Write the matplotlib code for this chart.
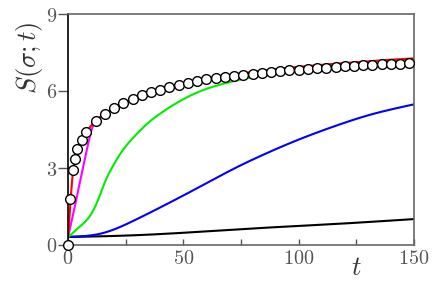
import numpy as np
import matplotlib
matplotlib.use("Agg")
import matplotlib.pyplot as plt
from matplotlib.ticker import FixedLocator, FuncFormatter

plt.rcParams['mathtext.fontset'] = 'cm'

# circles (data points)
t_circ = [0, 1, 2, 3, 4, 6, 8, 12, 16, 20, 24, 28, 32, 36, 40, 44, 48, 52, 56, 60,
          64, 68, 72, 76, 80, 84, 88, 92, 96, 100, 104, 108, 112, 116, 120, 124,
          128, 132, 136, 140, 144, 148]
S_circ = [0, 1.78, 2.91, 3.35, 3.74, 4.10, 4.40, 4.84, 5.09, 5.35, 5.52, 5.68, 5.83,
          5.95, 6.05, 6.14, 6.22, 6.30, 6.38, 6.45, 6.50, 6.55, 6.60, 6.64, 6.67,
          6.70, 6.73, 6.76, 6.80, 6.83, 6.86, 6.89, 6.91, 6.94, 6.96, 6.98, 7.00,
          7.02, 7.04, 7.06, 7.07, 7.09]

# red curve
t_red = [0, 0.5, 1, 2, 3, 4, 6, 8, 12, 16, 20, 24, 28, 32, 36, 40, 50, 60, 70, 80,
         90, 100, 110, 120, 130, 140, 150]
S_red = [0.3, 0.9, 1.6, 2.7, 3.3, 3.7, 4.1, 4.4, 4.85, 5.1, 5.35, 5.53, 5.69, 5.84,
         5.96, 6.07, 6.3, 6.48, 6.62, 6.74, 6.85, 6.94, 7.02, 7.09, 7.16, 7.22, 7.27]

# magenta curve
t_mag = [0, 1, 3, 5, 7, 9, 10, 11, 12, 13, 16, 20, 24]
S_mag = [0.3, 0.7, 1.52, 2.38, 3.22, 4.05, 4.42, 4.68, 4.83, 4.93, 5.1, 5.35, 5.53]

# green curve
t_grn = [0, 5, 10, 13, 16, 19, 23, 29, 35, 40, 45, 50, 57, 69, 77, 85, 100, 125, 150]
S_grn = [0.3, 0.7, 1.2, 1.75, 2.45, 3.0, 3.6, 4.25, 4.78, 5.12, 5.42, 5.68, 5.98,
         6.32, 6.49, 6.62, 6.82, 7.07, 7.23]

# blue curve
t_blu = [0, 14.5, 29, 43.4, 57.8, 72.3, 86.7, 101.2, 115.6, 130, 150]
S_blu = [0.32, 0.45, 0.97, 1.62, 2.30, 2.99, 3.60, 4.15, 4.63, 5.05, 5.48]

# black curve
t_blk = [0, 29, 58, 87, 116, 150]
S_blk = [0.31, 0.38, 0.52, 0.68, 0.82, 1.01]


def pchip(x, y, n=500):
    x = np.asarray(x, float); y = np.asarray(y, float)
    xs = np.linspace(x[0], x[-1], n)
    h = np.diff(x); d = np.diff(y) / h
    m = np.zeros_like(y)
    m[0] = d[0]; m[-1] = d[-1]
    for i in range(1, len(x) - 1):
        if d[i-1] * d[i] <= 0:
            m[i] = 0
        else:
            w1 = 2*h[i] + h[i-1]; w2 = h[i] + 2*h[i-1]
            m[i] = (w1 + w2) / (w1/d[i-1] + w2/d[i])
    idx = np.clip(np.searchsorted(x, xs) - 1, 0, len(x) - 2)
    hh = h[idx]; s = (xs - x[idx]) / hh
    h00 = 2*s**3 - 3*s**2 + 1; h10 = s**3 - 2*s**2 + s
    h01 = -2*s**3 + 3*s**2; h11 = s**3 - s**2
    ys = h00*y[idx] + h10*hh*m[idx] + h01*y[idx+1] + h11*hh*m[idx+1]
    return xs, ys


def natural(x, y, n=500):
    x = np.asarray(x, float); y = np.asarray(y, float)
    N = len(x); h = np.diff(x)
    A = np.zeros((N, N)); b = np.zeros(N)
    A[0, 0] = 1; A[-1, -1] = 1
    for i in range(1, N - 1):
        A[i, i-1] = h[i-1]; A[i, i] = 2*(h[i-1] + h[i]); A[i, i+1] = h[i]
        b[i] = 6*((y[i+1] - y[i])/h[i] - (y[i] - y[i-1])/h[i-1])
    M = np.linalg.solve(A, b)
    xs = np.linspace(x[0], x[-1], n)
    idx = np.clip(np.searchsorted(x, xs) - 1, 0, N - 2)
    x0 = x[idx]; x1 = x[idx+1]; hh = h[idx]
    ys = (M[idx]*(x1 - xs)**3/(6*hh) + M[idx+1]*(xs - x0)**3/(6*hh)
          + (y[idx]/hh - M[idx]*hh/6)*(x1 - xs)
          + (y[idx+1]/hh - M[idx+1]*hh/6)*(xs - x0))
    return xs, ys


fig = plt.figure(figsize=(4.36, 2.91), dpi=100)
ax = fig.add_axes([68/436, 1-245/291, (414-68)/436, (245-14)/291])

lw = 1.5
ax.plot(*natural(t_blk, S_blk), color='black', lw=lw)
ax.plot(*natural(t_blu, S_blu), color='#0000ff', lw=lw)
ax.plot(*pchip(t_mag, S_mag), color='#ff00ff', lw=lw)
ax.plot(*natural(t_grn, S_grn), color='#00ee00', lw=lw)
ax.plot(*pchip(t_red, S_red), color='#ff0000', lw=lw)
ax.plot(t_circ, S_circ, 'o', ms=7, mfc='white', mec='black', mew=1.0,
        clip_on=False, zorder=5)

ax.set_xlim(0, 150)
ax.set_ylim(0, 9)

ax.xaxis.set_major_locator(FixedLocator([0, 50, 100, 150]))
ax.xaxis.set_minor_locator(FixedLocator([25, 75, 125]))
ax.yaxis.set_major_locator(FixedLocator([0, 3, 6, 9]))
fmt = FuncFormatter(lambda v, p: r'$%d$' % int(round(v)))
ax.xaxis.set_major_formatter(fmt)
ax.yaxis.set_major_formatter(fmt)
ax.tick_params(axis='x', which='both', direction='in', length=4, width=1,
               color='#555555', labelsize=14.5, labelcolor='#555555', pad=3)
ax.tick_params(axis='y', which='both', direction='out', length=7, width=1,
               color='#555555', labelsize=14.5, labelcolor='#555555', pad=1)
for s in ['top', 'right', 'bottom']:
    ax.spines[s].set_color('#666666')
    ax.spines[s].set_linewidth(1.2)
ax.spines['left'].set_color('black')
ax.spines['left'].set_linewidth(1.2)

ax.text(-0.112, 0.81, r'$S(\sigma;t)$', transform=ax.transAxes, rotation=90,
        ha='center', va='center', fontsize=19, color='#333333')
ax.text(125, -0.1, r'$t$', transform=ax.get_xaxis_transform(),
        ha='center', va='center', fontsize=19, color='#333333')

fig.savefig('out.png', dpi=100)
